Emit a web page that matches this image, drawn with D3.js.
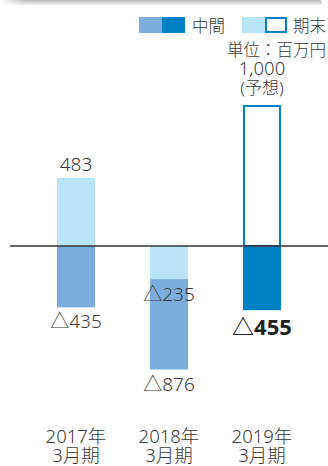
<!DOCTYPE html>
<html>
<head>
<meta charset="utf-8">
<script src="https://cdn.jsdelivr.net/npm/d3@7"></script>
<style>
  html, body { margin: 0; padding: 0; background: #fff; }
  svg { display: block; }
  text { font-family: "Noto Sans", "Noto Sans CJK JP", sans-serif; fill: #3a3a3a; }
</style>
</head>
<body>
<svg id="chart" width="328" height="466"></svg>
<script>
// Fiscal periods (two-line axis labels)
const periods = ["2017年", "2018年", "2019年"];
const periodSub = ["3月期", "3月期", "3月期"];
// Interim and year-end results, millions of yen (negative = loss)
const interim = [-435, -876, -455];
const yearEnd = [483, -235, 1000];
// Year-end value is a forecast for the last period
const isForecast = [false, false, true];

const COLOR_INTERIM = "#7BAEDD";
const COLOR_INTERIM_CURRENT = "#0080C6";
const COLOR_YEAREND = "#BAE4F8";
const COLOR_FORECAST = "#0080C6";

const svg = d3.select("#chart");

const x = d3.scaleBand()
  .domain(periods)
  .range([29.5, 308.5])
  .paddingInner(0.5914)
  .paddingOuter(0.2957);

const y = d3.scaleLinear().domain([0, 1000]).range([246, 105]);

const fmt = d3.format(",");
const label = v => v < 0 ? "△" + fmt(-v) : fmt(v);

// soft shadow along the top edge
const defs = svg.append("defs");
const g1 = defs.append("linearGradient").attr("id", "topShade")
  .attr("x1", 0).attr("y1", 0).attr("x2", 0).attr("y2", 1);
g1.append("stop").attr("offset", 0).attr("stop-color", "#b8b8b8");
g1.append("stop").attr("offset", 1).attr("stop-color", "#ffffff");
const g2 = defs.append("linearGradient").attr("id", "leftFade")
  .attr("x1", 0).attr("y1", 0).attr("x2", 1).attr("y2", 0);
g2.append("stop").attr("offset", 0).attr("stop-color", "#fff").attr("stop-opacity", 1);
g2.append("stop").attr("offset", 0.08).attr("stop-color", "#fff").attr("stop-opacity", 0);
svg.append("rect").attr("x", 0).attr("y", 0).attr("width", 322).attr("height", 6)
  .attr("rx", 3).attr("fill", "url(#topShade)");
svg.append("rect").attr("x", 0).attr("y", 0).attr("width", 322).attr("height", 6)
  .attr("fill", "url(#leftFade)");

// legend
const lg = svg.append("g");
lg.append("rect").attr("x", 139).attr("y", 17).attr("width", 23).attr("height", 16).attr("fill", COLOR_INTERIM);
lg.append("rect").attr("x", 162).attr("y", 17).attr("width", 23).attr("height", 16).attr("fill", COLOR_INTERIM_CURRENT);
lg.append("text").attr("x", 192).attr("y", 31.5).attr("font-size", 16.5).attr("font-weight", 300).text("中間");
lg.append("rect").attr("x", 242).attr("y", 17).attr("width", 23).attr("height", 16).attr("fill", COLOR_YEAREND);
lg.append("rect").attr("x", 266).attr("y", 18).attr("width", 20).attr("height", 14)
  .attr("fill", "#fff").attr("stroke", COLOR_FORECAST).attr("stroke-width", 2);
lg.append("text").attr("x", 293).attr("y", 31.5).attr("font-size", 16.5).attr("font-weight", 300).text("期末");
lg.append("text").attr("x", 326).attr("y", 55.5).attr("font-size", 16.5).attr("font-weight", 300)
  .attr("text-anchor", "end").text("単位：百万円");

const rows = periods.map((p, i) => ({
  p, sub: periodSub[i], interim: interim[i], yearEnd: yearEnd[i],
  forecast: isForecast[i], current: i === periods.length - 1
}));

// interim bars
svg.selectAll("rect.interim").data(rows).join("rect")
  .attr("class", "interim")
  .attr("x", d => x(d.p))
  .attr("width", x.bandwidth())
  .attr("y", d => Math.min(y(0), y(d.interim)))
  .attr("height", d => Math.abs(y(d.interim) - y(0)))
  .attr("fill", d => d.current ? COLOR_INTERIM_CURRENT : COLOR_INTERIM);

// year-end bars (actual)
svg.selectAll("rect.yearend").data(rows.filter(d => !d.forecast)).join("rect")
  .attr("class", "yearend")
  .attr("x", d => x(d.p))
  .attr("width", x.bandwidth())
  .attr("y", d => Math.min(y(0), y(d.yearEnd)))
  .attr("height", d => Math.abs(y(d.yearEnd) - y(0)))
  .attr("fill", COLOR_YEAREND);

// year-end forecast (outlined)
svg.selectAll("rect.forecast").data(rows.filter(d => d.forecast)).join("rect")
  .attr("class", "forecast")
  .attr("x", d => x(d.p) + 1)
  .attr("width", x.bandwidth() - 2)
  .attr("y", d => y(d.yearEnd) + 1)
  .attr("height", d => y(0) - y(d.yearEnd) - 1)
  .attr("fill", "#fff")
  .attr("stroke", COLOR_FORECAST)
  .attr("stroke-width", 2);

// zero line
svg.append("line").attr("x1", 10).attr("x2", 328).attr("y1", 246).attr("y2", 246)
  .attr("stroke", "#333").attr("stroke-width", 1.6);

// value labels
const cx = d => x(d.p) + x.bandwidth() / 2;
rows.forEach(d => {
  // year-end label
  if (d.forecast) {
    svg.append("text").attr("x", cx(d)).attr("y", y(d.yearEnd) - 30)
      .attr("text-anchor", "middle").attr("font-size", 18.5).attr("font-weight", 300)
      .text(label(d.yearEnd));
    svg.append("text").attr("x", cx(d)).attr("y", y(d.yearEnd) - 11)
      .attr("text-anchor", "middle").attr("font-size", 17).attr("font-weight", 300)
      .text("(予想)");
  } else if (d.yearEnd >= 0) {
    svg.append("text").attr("x", cx(d)).attr("y", y(d.yearEnd) - 7)
      .attr("text-anchor", "middle").attr("font-size", 19).attr("font-weight", 300)
      .text(label(d.yearEnd));
  } else {
    svg.append("text").attr("x", cx(d)).attr("y", y(d.yearEnd) + 21.5)
      .attr("text-anchor", "middle").attr("font-size", 19).attr("font-weight", 300)
      .text(label(d.yearEnd));
  }
  // interim label
  svg.append("text").attr("x", cx(d))
    .attr("y", y(d.interim) + (d.current ? 24.5 : 21))
    .attr("text-anchor", "middle")
    .attr("font-size", d.current ? 22 : 19)
    .attr("font-weight", d.current ? 700 : 300)
    .style("fill", d.current ? "#222" : null)
    .text(label(d.interim));
  // category labels
  svg.append("text").attr("x", cx(d)).attr("y", 443)
    .attr("text-anchor", "middle").attr("font-size", 18.5).attr("font-weight", 300)
    .text(d.p);
  svg.append("text").attr("x", cx(d)).attr("y", 462)
    .attr("text-anchor", "middle").attr("font-size", 18.5).attr("font-weight", 300)
    .text(d.sub);
});
</script>
</body>
</html>
